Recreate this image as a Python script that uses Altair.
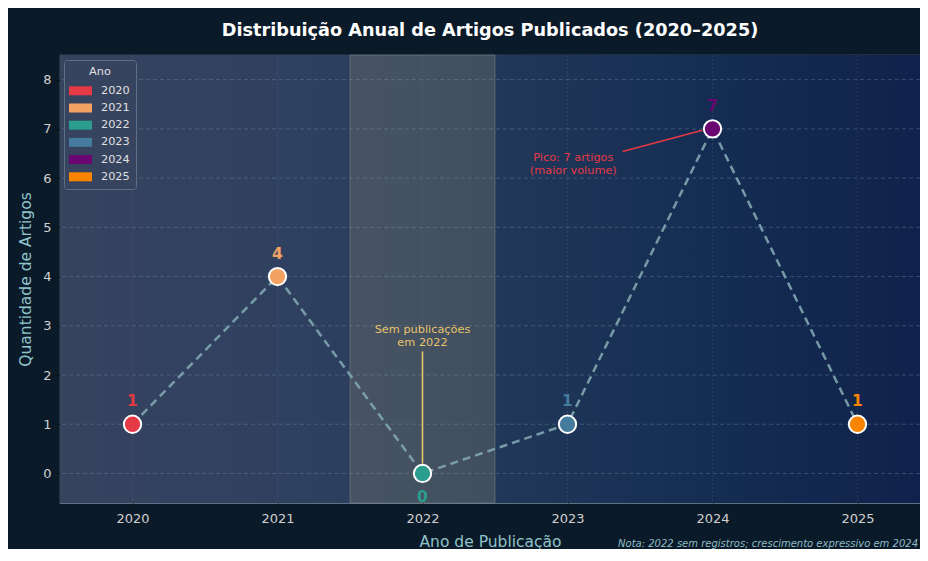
import altair as alt
import pandas as pd

# ---- data ----
years = [2020, 2021, 2022, 2023, 2024, 2025]
counts = [1, 4, 0, 1, 7, 1]
year_colors = ["#e63946", "#f4a261", "#2a9d8f", "#457b9d", "#6a0572", "#fb8500"]
y_ticks = [0, 1, 2, 3, 4, 5, 6, 7, 8]
highlight_year = 2022

gap_note = "Sem publicações\nem 2022"
gap_note_xy = [2022, 2.92]
gap_line = [2022, 2.48, 2022, 0.2]

peak_note = "Pico: 7 artigos\n(maior volume)"
peak_note_xy = [2023.04, 6.40]
peak_line = [2023.38, 6.54, 2023.93, 6.97]

footnote = "Nota: 2022 sem registros; crescimento expressivo em 2024"
title_text = "Distribuição Anual de Artigos Publicados (2020–2025)"

W, H = 860, 448
FONT = "DejaVu Sans"

df = pd.DataFrame({"year": years, "count": counts, "label": [str(c) for c in counts]})

xscale = alt.Scale(domain=[2019.5, 2019.5 + W / 145.0], nice=False, zero=False)
yscale = alt.Scale(domain=[-0.6, 8.5], nice=False, zero=False)

xaxis = alt.Axis(values=years, format="d", title="Ano de Publicação", grid=False,
                 labelColor="#d0d0d0", labelFontSize=13, labelPadding=5,
                 tickColor="#111111", tickSize=4, domain=False,
                 titleColor="#8fc3c9", titleFontSize=15.5, titleFontWeight="normal",
                 titlePadding=9, labelFont=FONT, titleFont=FONT)
yaxis = alt.Axis(values=y_ticks, format="d", title="Quantidade de Artigos", grid=False,
                 labelColor="#d0d0d0", labelFontSize=13, labelPadding=5,
                 tickColor="#111111", tickSize=4, domain=False,
                 titleColor="#8fc3c9", titleFontSize=15.5, titleFontWeight="normal",
                 titlePadding=9, labelFont=FONT, titleFont=FONT)

one = pd.DataFrame({"k": [0]})

bg = alt.Chart(one).mark_rect(
    fill=alt.Gradient(gradient="linear", x1=0, x2=1, y1=0, y2=0,
                      stops=[alt.GradientStop(offset=0, color="#36435f"),
                             alt.GradientStop(offset=0.3, color="#2e4060"),
                             alt.GradientStop(offset=0.55, color="#1f3658"),
                             alt.GradientStop(offset=0.75, color="#152d53"),
                             alt.GradientStop(offset=1, color="#10224b")])
).encode(x=alt.value(0), x2=alt.value(W), y=alt.value(0), y2=alt.value(H))

hgrid = alt.Chart(pd.DataFrame({"t": y_ticks})).mark_rule(
    color="#7f95ad", strokeDash=[4, 3], strokeWidth=0.8, opacity=0.45
).encode(y=alt.Y("t:Q", scale=yscale, axis=yaxis))

vgrid = alt.Chart(pd.DataFrame({"year": years})).mark_rule(
    color="#5c7290", strokeDash=[2, 2], strokeWidth=0.8, opacity=0.35
).encode(x=alt.X("year:Q", scale=xscale, axis=xaxis))

band = alt.Chart(pd.DataFrame({"h": [highlight_year]})).transform_calculate(
    s="datum.h - 0.5", e="datum.h + 0.5"
).mark_rect(fill="#b8aa78", fillOpacity=0.2, stroke="#a0a89a", strokeOpacity=0.35,
            strokeWidth=1).encode(
    x=alt.X("s:Q", scale=xscale, axis=xaxis), x2="e:Q",
    y=alt.value(0), y2=alt.value(H))

base = alt.Chart(df)
x_enc = alt.X("year:Q", scale=xscale, axis=xaxis)
y_enc = alt.Y("count:Q", scale=yscale, axis=yaxis)

line = base.mark_line(color="#7fa6b0", strokeWidth=2.5, strokeDash=[8, 5], opacity=0.9).encode(
    x=x_enc, y=y_enc)

points = base.mark_circle(size=300, opacity=1, stroke="white", strokeWidth=2).encode(
    x=x_enc, y=y_enc,
    fill=alt.Fill("year:N", scale=alt.Scale(domain=years, range=year_colors),
                  legend=alt.Legend(title="Ano", orient="none", legendX=4, legendY=5,
                                    symbolType="M-1.12,-0.53H1.59V0.53H-1.12Z",
                                    symbolSize=289, labelOffset=14,
                                    symbolStrokeWidth=0, symbolOpacity=1,
                                    fillColor="#36445f", strokeColor="#5d7183",
                                    cornerRadius=3, padding=6, rowPadding=3.2,
                                    titleAnchor="middle", titleFontSize=11.3,
                                    titleFontWeight="normal", titleColor="#e0e0e0",
                                    labelFontSize=11.3, labelColor="#e0e0e0",
                                    labelFont=FONT, titleFont=FONT, titlePadding=5)))

lbl_scale = alt.Scale(domain=years, range=year_colors)
labels_up = base.transform_filter("datum.count > 0").mark_text(
    fontWeight="bold", fontSize=15.5, dy=-23, font=FONT).encode(
    x=x_enc, y=y_enc, text="label:N", color=alt.Color("year:N", scale=lbl_scale, legend=None))
labels_dn = base.transform_filter("datum.count == 0").mark_text(
    fontWeight="bold", fontSize=15.5, dy=24, font=FONT).encode(
    x=x_enc, y=y_enc, text="label:N", color=alt.Color("year:N", scale=lbl_scale, legend=None))

gap_rule = alt.Chart(pd.DataFrame({"x": [gap_line[0]], "y": [gap_line[1]],
                                   "x2": [gap_line[2]], "y2": [gap_line[3]]})).mark_rule(
    color="#e9c46a", strokeWidth=1.6).encode(
    x=alt.X("x:Q", scale=xscale, axis=xaxis), y=alt.Y("y:Q", scale=yscale, axis=yaxis),
    x2="x2:Q", y2="y2:Q")
gap_txt = alt.Chart(pd.DataFrame({"x": [gap_note_xy[0]], "y": [gap_note_xy[1]],
                                  "t": [gap_note]})).mark_text(
    lineBreak="\n", align="center", baseline="middle", fontSize=11.3, color="#e9c46a",
    font=FONT, lineHeight=13).encode(
    x=alt.X("x:Q", scale=xscale, axis=xaxis), y=alt.Y("y:Q", scale=yscale, axis=yaxis),
    text="t:N")

peak_rule = alt.Chart(pd.DataFrame({"x": [peak_line[0]], "y": [peak_line[1]],
                                    "x2": [peak_line[2]], "y2": [peak_line[3]]})).mark_rule(
    color="#e63946", strokeWidth=1.6).encode(
    x=alt.X("x:Q", scale=xscale, axis=xaxis), y=alt.Y("y:Q", scale=yscale, axis=yaxis),
    x2="x2:Q", y2="y2:Q")
peak_txt = alt.Chart(pd.DataFrame({"x": [peak_note_xy[0]], "y": [peak_note_xy[1]],
                                   "t": [peak_note]})).mark_text(
    lineBreak="\n", align="center", baseline="middle", fontSize=11.3, color="#e63946",
    font=FONT, lineHeight=13).encode(
    x=alt.X("x:Q", scale=xscale, axis=xaxis), y=alt.Y("y:Q", scale=yscale, axis=yaxis),
    text="t:N")

foot = alt.Chart(one).mark_text(
    text=footnote, align="right", baseline="alphabetic", fontStyle="italic", fontSize=10,
    color="#8fbcc4", font=FONT).encode(x=alt.value(W - 2), y=alt.value(H + 44))

chart = alt.layer(bg, vgrid, hgrid, band, line, gap_rule, peak_rule, points,
                  labels_up, labels_dn, gap_txt, peak_txt, foot).properties(
    width=W, height=H,
    title=alt.TitleParams(title_text, fontSize=17.7, fontWeight="bold", color="white",
                          font=FONT, anchor="middle", offset=15),
    background="#0b1a29",
    padding={"left": 52, "top": 47, "right": 0, "bottom": 46},
    autosize=alt.AutoSizeParams(type="none"),
).configure_view(stroke="#5d7183", strokeWidth=1.2)

chart.save("out.html", embed_options={"renderer": "svg", "actions": False})
